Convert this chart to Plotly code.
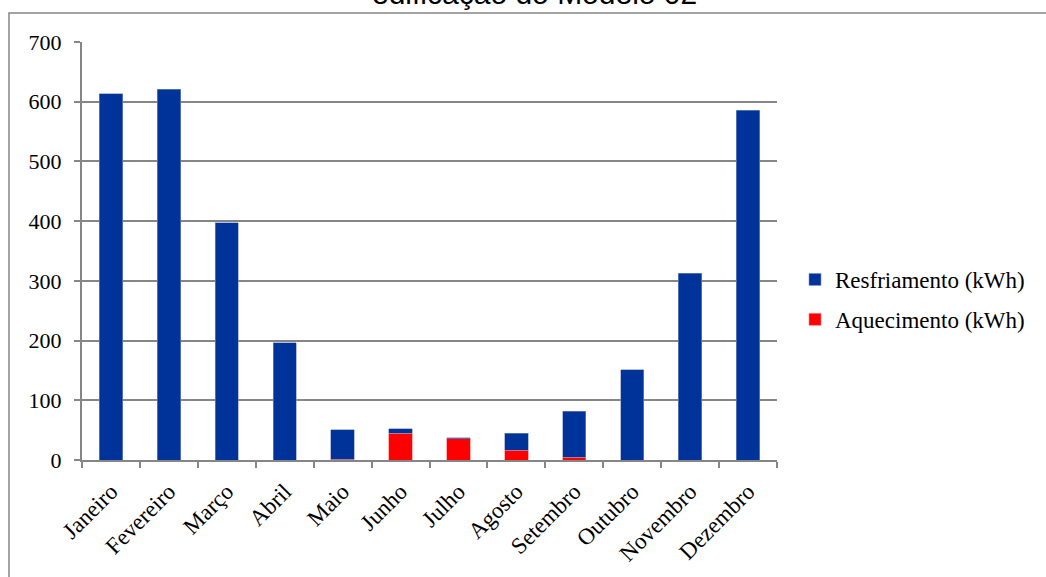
import plotly.graph_objects as go

meses = ["Janeiro", "Fevereiro", "Março", "Abril", "Maio", "Junho", "Julho",
         "Agosto", "Setembro", "Outubro", "Novembro", "Dezembro"]
aquecimento = [0, 0, 0, 0, 1, 45, 36, 16, 5, 0, 0, 0]
resfriamento = [613, 621, 397, 196, 50, 7, 1, 29, 77, 151, 313, 586]
y_ticks = [0, 100, 200, 300, 400, 500, 600, 700]

W, H = 1046, 577
L, R, T, B = 82, W - 777, 42, H - 460
pw, ph = W - L - R, H - T - B

def px_x(x):
    return (x - L) / pw

def px_y(y):
    return 1 - (y - T) / ph

gray = "#868686"
serif = "Liberation Serif"

fig = go.Figure()
fig.add_trace(go.Bar(x=meses, y=aquecimento, name="Aquecimento (kWh)",
                     marker=dict(color="#FF0000", line=dict(color="#ff8080", width=0.6)),
                     legendgroup="a", legendrank=2))
fig.add_trace(go.Bar(x=meses, y=resfriamento, name="Resfriamento (kWh)",
                     marker=dict(color="#003399", line=dict(color="#8096cc", width=0.6)),
                     legendgroup="r", legendrank=1))

fig.update_layout(
    width=W, height=H,
    margin=dict(l=L, r=R, t=T, b=B, autoexpand=False),
    barmode="stack", bargap=0.597,
    plot_bgcolor="white", paper_bgcolor="white",
    font=dict(family=serif, size=22, color="black"),
    showlegend=True,
    legend=dict(x=px_x(795), y=px_y(258), xanchor="left", yanchor="top",
                traceorder="grouped", tracegroupgap=7,
                font=dict(family=serif, size=23, color="black"),
                bgcolor="rgba(0,0,0,0)"),
    xaxis=dict(type="category", tickangle=-45, showline=True, linecolor=gray, linewidth=2,
               ticks="outside", tickson="boundaries", ticklen=6, tickcolor=gray, tickwidth=2,
               showgrid=False, ticklabelstandoff=7, automargin=False,
               tickfont=dict(family=serif, size=23, color="black")),
    yaxis=dict(range=[0, 700], tickvals=y_ticks, showline=True, linecolor=gray, linewidth=2,
               ticks="outside", ticklen=6, tickcolor=gray, tickwidth=2,
               showgrid=True, gridcolor=gray, gridwidth=2, zeroline=False,
               ticklabelstandoff=8, automargin=False,
               tickfont=dict(family=serif, size=22, color="black")),
)

# chart frame (partially visible)
fig.add_shape(type="rect", xref="paper", yref="paper",
              x0=px_x(9), x1=px_x(1060), y0=px_y(600), y1=px_y(13),
              line=dict(color=gray, width=1.5), fillcolor="rgba(0,0,0,0)", layer="below")

# title (cut off at top)
fig.add_annotation(text="edificação do Modelo 02", xref="paper", yref="paper",
                   x=px_x(534), y=px_y(12), xanchor="center", yanchor="bottom",
                   showarrow=False,
                   font=dict(family="Liberation Sans", size=30, color="black"))

fig.write_html("out.html")
